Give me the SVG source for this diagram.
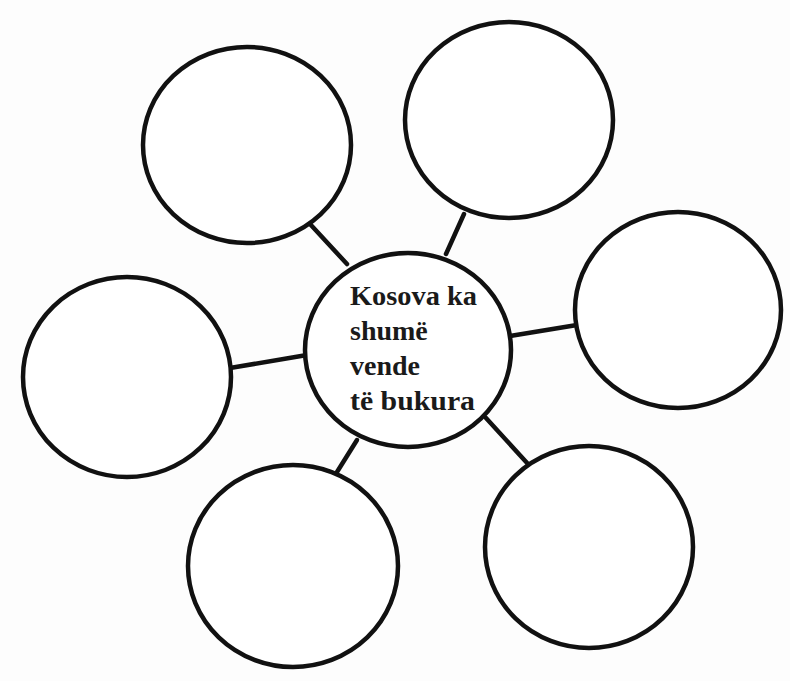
<svg xmlns="http://www.w3.org/2000/svg" width="790" height="681" viewBox="0 0 790 681">
<style>
.c{fill:#fff;stroke:#111;stroke-width:4.5}
.l{stroke:#111;stroke-width:4.5;stroke-linecap:round}
.t{font-family:"Liberation Serif","Times New Roman",serif;font-weight:bold;font-size:28px;fill:#1a1a1a}
</style>
<rect width="790" height="681" fill="#fdfdfd"/>
<g id="connectors">
<line class="l" x1="310" y1="224" x2="347" y2="264"/>
<line class="l" x1="464" y1="214" x2="446" y2="254"/>
<line class="l" x1="510" y1="336" x2="577" y2="325"/>
<line class="l" x1="230" y1="368" x2="307" y2="355"/>
<line class="l" x1="337" y1="472" x2="357" y2="440"/>
<line class="l" x1="486" y1="418" x2="528" y2="464"/>
</g>
<g id="n-tl"><ellipse class="c" cx="247" cy="145" rx="104" ry="98"/></g>
<g id="n-tr"><ellipse class="c" cx="509" cy="120" rx="104" ry="98"/></g>
<g id="n-r"><ellipse class="c" cx="678" cy="310" rx="103" ry="98"/></g>
<g id="n-l"><ellipse class="c" cx="127" cy="377" rx="104" ry="100"/></g>
<g id="n-bl"><ellipse class="c" cx="293" cy="566" rx="105" ry="101"/></g>
<g id="n-br"><ellipse class="c" cx="589" cy="547" rx="104" ry="101"/></g>
<g id="center">
<ellipse class="c" cx="408" cy="350" rx="103" ry="97"/>
<text class="t" x="350" y="305" textLength="127" lengthAdjust="spacingAndGlyphs">Kosova ka</text>
<text class="t" x="350" y="340">shumë</text>
<text class="t" x="350" y="375">vende</text>
<text class="t" x="350" y="410" textLength="125" lengthAdjust="spacingAndGlyphs">të bukura</text>
</g>
</svg>
